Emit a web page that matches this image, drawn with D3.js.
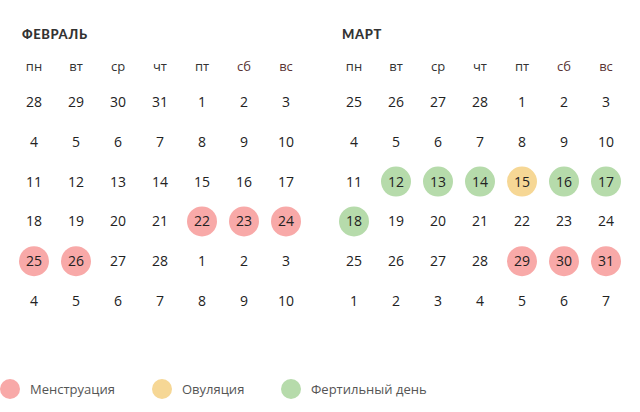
<!DOCTYPE html>
<html><head><meta charset="utf-8">
<script src="https://cdn.jsdelivr.net/npm/d3@7"></script>
<style>body{margin:0;background:#fff}svg{font-family:"Open Sans",sans-serif}</style>
</head><body><svg id="c" width="640" height="412"></svg>
<script>
var weekdays = ['пн','вт','ср','чт','пт','сб','вс'];
var febDays = [[28,29,30,31,1,2,3],[4,5,6,7,8,9,10],[11,12,13,14,15,16,17],[18,19,20,21,22,23,24],[25,26,27,28,1,2,3],[4,5,6,7,8,9,10]];
var marDays = [[25,26,27,28,1,2,3],[4,5,6,7,8,9,10],[11,12,13,14,15,16,17],[18,19,20,21,22,23,24],[25,26,27,28,29,30,31],[1,2,3,4,5,6,7]];
// [row, col, type]
var febMarks = [[3,4,'men'],[3,5,'men'],[3,6,'men'],[4,0,'men'],[4,1,'men']];
var marMarks = [[2,1,'fert'],[2,2,'fert'],[2,3,'fert'],[2,4,'ovu'],[2,5,'fert'],[2,6,'fert'],[3,0,'fert'],[4,4,'men'],[4,5,'men'],[4,6,'men']];
var legendKeys = ['men','ovu','fert'];
var legendLabels = ['Менструация','Овуляция','Фертильный день'];
var colors = {men:'#f8a9a8', ovu:'#f6d795', fert:'#b6dbab'};

var svg = d3.select('#c');
var col = d3.scaleBand().domain(d3.range(7)).range([13, 307]);
var row = d3.scaleLinear().domain([0, 5]).range([102, 301]);

function drawMonth(x0, title, days, marks) {
    var g = svg.append('g').attr('transform', 'translate(' + x0 + ',0)');
    g.append('text').attr('x', 22).attr('y', 39).text(title)
        .attr('font-family', 'Lato').attr('font-weight', 900).attr('font-size', 13)
        .attr('letter-spacing', 0.6).attr('fill', '#333');
    g.selectAll('.wd').data(weekdays).enter().append('text')
        .attr('x', function(d, i) { return col(i) + col.bandwidth() / 2; })
        .attr('y', 71).attr('text-anchor', 'middle').attr('font-size', 13)
        .attr('fill', function(d, i) { return i > 4 ? '#5a3535' : '#333'; })
        .text(function(d) { return d; });
    g.selectAll('circle').data(marks).enter().append('circle')
        .attr('cx', function(d) { return col(d[1]) + col.bandwidth() / 2; })
        .attr('cy', function(d) { return row(d[0]); })
        .attr('r', 15).attr('fill', function(d) { return colors[d[2]]; });
    days.forEach(function(r, ri) {
        g.selectAll('.r' + ri).data(r).enter().append('text')
            .attr('x', function(d, i) { return col(i) + col.bandwidth() / 2; })
            .attr('y', row(ri) + 5).attr('text-anchor', 'middle')
            .attr('font-size', 14).attr('fill', '#222')
            .text(function(d) { return d; });
    });
}
drawMonth(0, 'ФЕВРАЛЬ', febDays, febMarks);
drawMonth(320, 'МАРТ', marDays, marMarks);

var lx = [10, 162, 291];
var lg = svg.selectAll('.lg').data(legendKeys).enter().append('g')
    .attr('transform', function(d, i) { return 'translate(' + lx[i] + ',389)'; });
lg.append('circle').attr('r', 10).attr('fill', function(d) { return colors[d]; });
lg.append('text').attr('x', 20).attr('y', 5).attr('font-size', 13).attr('fill', '#555')
    .text(function(d, i) { return legendLabels[i]; });
</script></body></html>
